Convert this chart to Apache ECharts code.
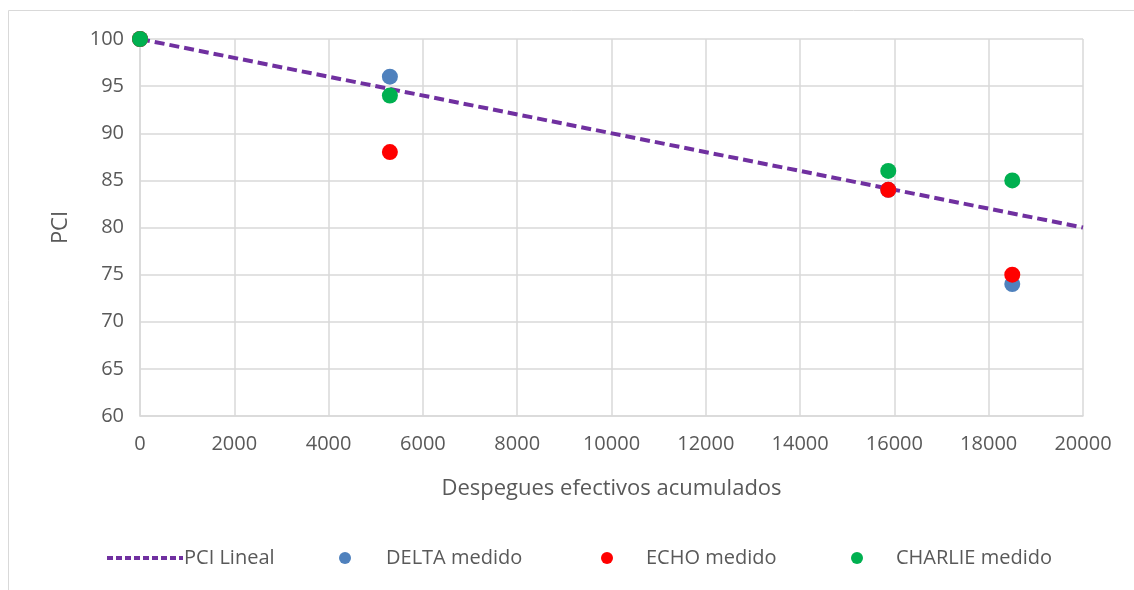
<!DOCTYPE html>
<html><head><meta charset="utf-8">
<script src="https://cdn.jsdelivr.net/npm/echarts@6/dist/echarts.min.js"></script>
<style>html,body{margin:0;padding:0;background:#fff}#c{width:1134px;height:590px}</style>
</head><body><div id="c"></div>
<script>
const lineX = [0, 20000];
const lineY = [100, 80];
const deltaData = [[0,100],[5300,96],[15870,84],[18500,74]];
const echoData = [[0,100],[5300,88],[15870,84],[18500,75]];
const charlieData = [[0,100],[5300,94],[15870,86],[18500,85]];
const xTitle = 'Despegues efectivos acumulados';
const yTitle = 'PCI';
const names = ['PCI Lineal','DELTA medido','ECHO medido','CHARLIE medido'];

const font = 'Open Sans';
const txt = '#595959';
const grid = '#d9d9d9';
const chart = echarts.init(document.getElementById('c'));
const legendTxt = {color: txt, fontSize: 20, fontFamily: font};
chart.setOption({
  animation: false,
  graphic: [{type:'rect', shape:{x:8.5,y:10.5,width:1200,height:700}, style:{fill:'none', stroke:'#d9d9d9', lineWidth:1}}],
  grid: {left:140, right:51, top:39, bottom:174},
  xAxis: {type:'value', min:0, max:20000, interval:2000,
    name: xTitle, nameLocation:'middle', nameGap:62,
    nameTextStyle:{color:txt, fontSize:22, fontFamily:font},
    axisLine:{show:true, lineStyle:{color:grid, width:1.5}}, axisTick:{show:false},
    axisLabel:{color:txt, fontSize:20, fontFamily:font, margin:18, formatter:v=>String(v)},
    splitLine:{lineStyle:{color:grid, width:1.5}}},
  yAxis: {type:'value', min:60, max:100, interval:5,
    name: yTitle, nameLocation:'middle', nameGap:68,
    nameTextStyle:{color:txt, fontSize:22, fontFamily:font},
    axisLine:{show:true, lineStyle:{color:grid, width:1.5}}, axisTick:{show:false},
    axisLabel:{color:txt, fontSize:20, fontFamily:font, margin:16},
    splitLine:{lineStyle:{color:grid, width:1.5}}},
  legend: [
    {data:[{name:names[0], itemStyle:{opacity:0}}], left:100, top:543, itemWidth:76, itemHeight:14, itemGap:0,
     lineStyle:{width:4, type:[6,3]}, textStyle:Object.assign({padding:[0,0,0,-4]},legendTxt)},
    {data:[names[1]], left:334, top:543, itemWidth:12, itemHeight:14, textStyle:Object.assign({padding:[0,0,0,30]},legendTxt)},
    {data:[names[2]], left:596, top:543, itemWidth:12, itemHeight:14, textStyle:Object.assign({padding:[0,0,0,28]},legendTxt)},
    {data:[names[3]], left:846, top:543, itemWidth:12, itemHeight:14, textStyle:Object.assign({padding:[0,0,0,28]},legendTxt)}
  ],
  series: [
    {name:names[0], type:'line', data:lineX.map((x,i)=>[x,lineY[i]]), showSymbol:false, symbol:'none',
     lineStyle:{color:'#7030a0', width:4, type:[10,5]}, itemStyle:{color:'#7030a0'}, z:3},
    {name:names[1], type:'scatter', data:deltaData, symbolSize:16, itemStyle:{color:'#4f81bd', opacity:1}, z:4},
    {name:names[2], type:'scatter', data:echoData, symbolSize:16, itemStyle:{color:'#ff0000', opacity:1}, z:5},
    {name:names[3], type:'scatter', data:charlieData, symbolSize:16, itemStyle:{color:'#00b050', opacity:1}, z:6}
  ]
});
</script></body></html>
